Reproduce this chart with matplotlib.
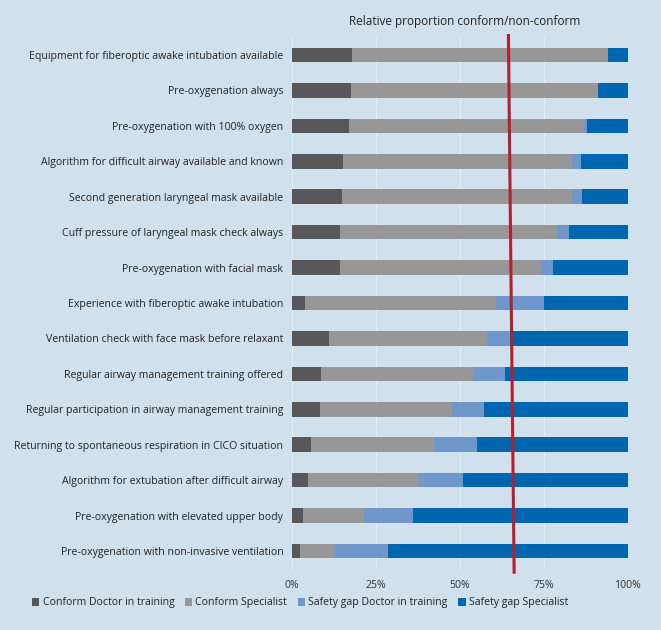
import numpy as np
import matplotlib
matplotlib.use("Agg")
import matplotlib.pyplot as plt

items = [
    "Equipment for fiberoptic awake intubation available",
    "Pre-oxygenation always",
    "Pre-oxygenation with 100% oxygen",
    "Algorithm for difficult airway available and known",
    "Second generation laryngeal mask available",
    "Cuff pressure of laryngeal mask check always",
    "Pre-oxygenation with facial mask",
    "Experience with fiberoptic awake intubation",
    "Ventilation check with face mask before relaxant",
    "Regular airway management training offered",
    "Regular participation in airway management training",
    "Returning to spontaneous respiration in CICO situation",
    "Algorithm for extubation after difficult airway",
    "Pre-oxygenation with elevated upper body",
    "Pre-oxygenation with non-invasive ventilation",
]

# percent shares per item (sum to 100)
conform_training = [17.9, 17.7, 17.1, 15.2, 14.9, 14.5, 14.4, 3.9, 11.1, 8.6, 8.4, 5.6, 5.0, 3.5, 2.5]
conform_specialist = [76.3, 73.4, 69.9, 68.1, 68.4, 64.4, 59.7, 56.9, 46.9, 45.4, 39.2, 36.9, 32.8, 18.1, 10.5]
gap_training = [0.0, 0.0, 0.8, 2.9, 3.2, 3.5, 3.6, 14.2, 7.0, 9.4, 9.6, 12.6, 13.2, 14.6, 15.6]
gap_specialist = [5.8, 8.9, 12.2, 13.8, 13.5, 17.6, 22.3, 25.0, 35.0, 36.6, 42.8, 44.9, 49.0, 63.8, 71.4]

series_names = ["Conform Doctor in training", "Conform Specialist",
                "Safety gap Doctor in training", "Safety gap Specialist"]
colors = ["#58585a", "#979797", "#7097c9", "#0066b0"]

# threshold line (tilted a bit, as in the source)
threshold_top, threshold_bottom = 64.5, 66.2

bg = "#d0e1ed"
plt.rcParams['font.family'] = ['Open Sans', 'DejaVu Sans']
fs = 7.6

fig = plt.figure(figsize=(6.61, 6.30), dpi=100, facecolor=bg)
ax = fig.add_axes([0.4413, 0.0973, 0.5083, 0.8435], facecolor=bg)

y = np.arange(len(items))
left = np.zeros(len(items))
for vals, name, c in zip([conform_training, conform_specialist, gap_training, gap_specialist],
                         series_names, colors):
    ax.barh(y, vals, left=left, height=0.41, color=c, label=name, zorder=2)
    left += np.array(vals)

ax.set_ylim(len(items) - 0.5, -0.5)
ax.set_xlim(0, 100)
ax.set_yticks(y)
ax.set_yticklabels(items, fontsize=fs, color="#222222")
ax.set_xticks([0, 25, 50, 75, 100])
ax.set_xticklabels(["0%", "25%", "50%", "75%", "100%"], fontsize=fs, color="#333333")
ax.tick_params(axis="y", length=0, pad=6)
ax.tick_params(axis="x", length=0, pad=8)
ax.xaxis.grid(True, color="#e2edf5", linewidth=0.8, zorder=0)
for s in ax.spines.values():
    s.set_visible(False)
ax.axvline(0, color="#e2edf5", linewidth=0.8, zorder=1)

ax.plot([threshold_top, threshold_bottom], [-0.55, 14.6], color="#b5202e",
        linewidth=2.2, clip_on=False, zorder=3)

fig.text(465 / 661, 1 - 22 / 630, "Relative proportion conform/non-conform",
         ha="center", va="center", fontsize=8.5, color="#222222")

fig.legend(loc="center", bbox_to_anchor=(300 / 661, 1 - 603 / 630), ncol=4,
           frameon=False, fontsize=fs, handlelength=0.7, handleheight=0.7,
           handletextpad=0.3, columnspacing=1.0, labelcolor="#222222")

fig.savefig("out.png", dpi=100, facecolor=bg)
